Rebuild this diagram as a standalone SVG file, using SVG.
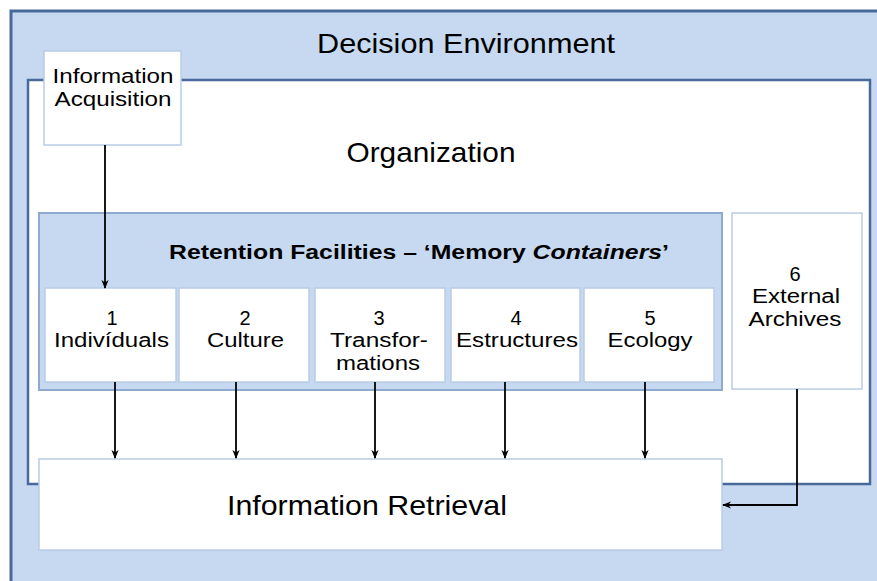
<svg xmlns="http://www.w3.org/2000/svg" width="877" height="581" viewBox="0 0 877 581">
<defs>
<style>
text{font-family:"Liberation Sans",Arial,sans-serif;fill:#000;text-anchor:middle}
.big{font-size:28px}
.mid{font-size:20px}
.title{font-size:20px;font-weight:bold}
.box{fill:#fff;stroke:#b8cce4;stroke-width:1.5}
.conn{stroke:#000;stroke-width:1.8;fill:none}
</style>
<marker id="ah" viewBox="0 0 10 10" refX="9" refY="5" markerWidth="9" markerHeight="9" orient="auto" markerUnits="userSpaceOnUse">
<path d="M0,1 L10,5 L0,9 L3,5 z" fill="#000"/>
</marker>
</defs>
<rect width="877" height="581" fill="#fff"/>
<g id="decision-environment">
<rect x="11" y="11" width="880" height="590" fill="#c6d9f0" stroke="#48699a" stroke-width="3"/>
<text class="big" x="466" y="53" textLength="298" lengthAdjust="spacingAndGlyphs">Decision Environment</text>
</g>
<g id="organization">
<rect x="28" y="80" width="842" height="404" fill="#fff" stroke="#48699a" stroke-width="2.5"/>
<text class="big" x="431" y="162" textLength="169" lengthAdjust="spacingAndGlyphs">Organization</text>
</g>
<g id="information-acquisition">
<rect class="box" x="44" y="51" width="137" height="94"/>
<text class="mid" x="113" y="83" textLength="121" lengthAdjust="spacingAndGlyphs">Information</text>
<text class="mid" x="113" y="106" textLength="117" lengthAdjust="spacingAndGlyphs">Acquisition</text>
</g>
<g id="retention-facilities">
<rect x="39" y="213" width="683" height="177" fill="#c6d9f0" stroke="#8eaacf" stroke-width="2"/>
<text class="title" x="419" y="259" textLength="500" lengthAdjust="spacingAndGlyphs">Retention Facilities – ‘Memory <tspan font-style="italic">Containers</tspan>’</text>
</g>
<g id="individuals">
<rect class="box" x="45" y="288" width="131" height="94"/>
<text class="mid" x="112" y="325">1</text>
<text class="mid" x="111.5" y="347" textLength="115" lengthAdjust="spacingAndGlyphs">Indivíduals</text>
</g>
<g id="culture">
<rect class="box" x="179" y="288" width="130" height="94"/>
<text class="mid" x="245" y="325">2</text>
<text class="mid" x="245.5" y="347" textLength="77" lengthAdjust="spacingAndGlyphs">Culture</text>
</g>
<g id="transformations">
<rect class="box" x="315" y="288" width="130" height="94"/>
<text class="mid" x="379" y="325">3</text>
<text class="mid" x="379" y="347" textLength="98" lengthAdjust="spacingAndGlyphs">Transfor-</text>
<text class="mid" x="378" y="370" textLength="84" lengthAdjust="spacingAndGlyphs">mations</text>
</g>
<g id="estructures">
<rect class="box" x="451" y="288" width="129" height="94"/>
<text class="mid" x="516" y="325">4</text>
<text class="mid" x="517" y="347" textLength="122" lengthAdjust="spacingAndGlyphs">Estructures</text>
</g>
<g id="ecology">
<rect class="box" x="584" y="288" width="130" height="94"/>
<text class="mid" x="650" y="325">5</text>
<text class="mid" x="650" y="347" textLength="85" lengthAdjust="spacingAndGlyphs">Ecology</text>
</g>
<g id="external-archives">
<rect class="box" x="732" y="213" width="130" height="176"/>
<text class="mid" x="795" y="281">6</text>
<text class="mid" x="796" y="303" textLength="88" lengthAdjust="spacingAndGlyphs">External</text>
<text class="mid" x="795" y="326" textLength="93" lengthAdjust="spacingAndGlyphs">Archives</text>
</g>
<g id="information-retrieval">
<rect class="box" x="39" y="459" width="683" height="91"/>
<text class="big" x="367" y="515" textLength="280" lengthAdjust="spacingAndGlyphs">Information Retrieval</text>
</g>
<g id="connectors">
<line class="conn" x1="105" y1="145" x2="105" y2="288" marker-end="url(#ah)"/>
<line class="conn" x1="115" y1="382" x2="115" y2="458" marker-end="url(#ah)"/>
<line class="conn" x1="236" y1="382" x2="236" y2="458" marker-end="url(#ah)"/>
<line class="conn" x1="375" y1="382" x2="375" y2="458" marker-end="url(#ah)"/>
<line class="conn" x1="505" y1="382" x2="505" y2="458" marker-end="url(#ah)"/>
<line class="conn" x1="645" y1="382" x2="645" y2="458" marker-end="url(#ah)"/>
<polyline class="conn" points="797,389 797,505 723,505" marker-end="url(#ah)"/>
</g>
</svg>
